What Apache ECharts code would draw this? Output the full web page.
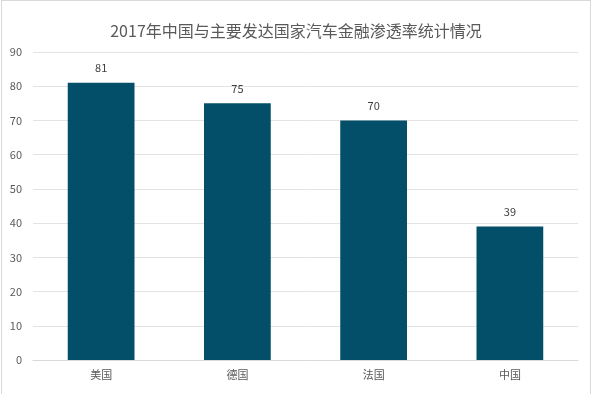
<!DOCTYPE html>
<html><head><meta charset="utf-8">
<script src="https://cdn.jsdelivr.net/npm/echarts@6/dist/echarts.min.js"></script>
<style>html,body{margin:0;padding:0;background:#fff;overflow:hidden}#c{position:absolute;left:1px;top:0;width:588px;height:400px;border:1px solid #d9d9d9}</style>
</head><body><div id="c"></div>
<script>
const titleText = '2017年中国与主要发达国家汽车金融渗透率统计情况';
const categories = ['美国', '德国', '法国', '中国'];
const values = [81, 75, 70, 39];
const yTicks = { min: 0, max: 90, interval: 10 };
const chart = echarts.init(document.getElementById('c'));
chart.setOption({
  animation: false,
  title: { text: titleText, left: 'center', top: 17, textStyle: { fontFamily: 'Noto Sans CJK SC', fontSize: 16, fontWeight: 'normal', color: '#595959' } },
  grid: { left: 31, right: 12, top: 51, bottom: 41 },
  xAxis: { type: 'category', data: categories, axisLine: { lineStyle: { color: '#d9d9d9' } }, axisTick: { show: false },
    axisLabel: { color: '#595959', fontSize: 11, fontFamily: 'Noto Sans CJK SC', margin: 9 } },
  yAxis: { type: 'value', min: yTicks.min, max: yTicks.max, interval: yTicks.interval,
    axisLine: { show: false }, axisTick: { show: false },
    splitLine: { lineStyle: { color: '#e3e3e3' } },
    axisLabel: { color: '#595959', fontSize: 11, fontFamily: 'Noto Sans CJK SC', margin: 11 } },
  series: [{ type: 'bar', data: values, barWidth: '49%', itemStyle: { color: '#034f69' },
    label: { show: true, position: 'top', distance: 9, color: '#404040', fontSize: 11, fontFamily: 'Noto Sans CJK SC' } }]
});
</script></body></html>
